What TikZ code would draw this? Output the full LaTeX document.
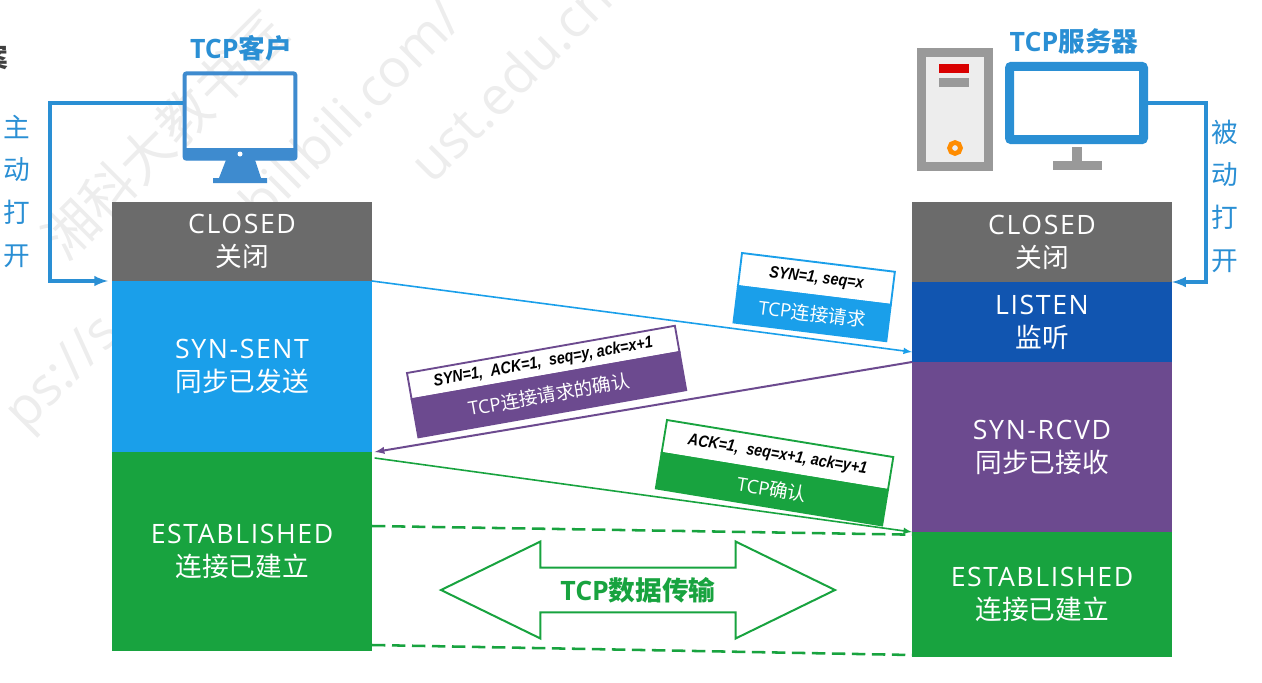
\documentclass[tikz,border=0pt]{standalone}
\usepackage{fontspec}
\setmainfont{Open Sans}
\newfontfamily\cjk{Noto Sans CJK SC}
\newfontfamily\spaced[LetterSpace=6]{Open Sans}
\newfontfamily\arialb[FakeStretch=0.86]{Liberation Sans}
\usetikzlibrary{arrows,positioning,shapes.arrows,calc}
\definecolor{tcpgray}{HTML}{6B6B6B}
\definecolor{tcpsky}{HTML}{1A9FEA}
\definecolor{tcpnavy}{HTML}{1155B0}
\definecolor{tcppurple}{HTML}{6C4A8F}
\definecolor{tcpgreen}{HTML}{18A33F}
\definecolor{tcpline}{HTML}{2A8FD4}
\definecolor{tcpicon}{HTML}{3E8BCF}
\tikzset{
  statebox/.style={fill=#1,text=white,minimum width=195pt,inner sep=0pt,outer sep=0pt,
    align=center,font=\fontsize{20}{24.75}\selectfont},
  msgtop/.style={draw=#1,line width=1.4pt,fill=white,inner sep=0pt,outer sep=0pt,
    font=\arialb\fontsize{12.5}{14}\selectfont\bfseries\itshape},
  msgbot/.style={draw=#1,line width=1.4pt,fill=#1,text=white,inner sep=0pt,outer sep=0pt,
    font=\fontsize{14}{16}\selectfont},
  sidetext/.style={text=tcpline,align=center,inner sep=0pt,font=\cjk\fontsize{20}{32}\selectfont},
  toptext/.style={text=tcpline,inner sep=0pt,font=\fontsize{20}{24}\selectfont\bfseries},
  mark text/.style={text=black!7,inner sep=0pt,font=\fontsize{40}{44}\selectfont},
}
\newcommand{\cn}[1]{{\cjk #1}}
\newcommand{\st}[2]{{\spaced #1}\\{\cjk #2}}

\begin{document}
\begin{tikzpicture}[x=0.75pt,y=-0.75pt]
\useasboundingbox (0,0) rectangle (1262,682);
% watermark
\node[mark text,rotate=45] (mark1) at (165,135) {\cjk 湘科大教书匠};
\node[mark text,rotate=45] (mark2) at (350,110) {bilibili.com/};
\node[mark text,rotate=45] (mark3) at (510,80) {ust.edu.cn};
\node[mark text,rotate=45] (mark4) at (65,375) {ps://s};
% cut off title
\node[inner sep=0pt,text=black!75,font=\cjk\bfseries\fontsize{20}{24}\selectfont] (title) at (-5,57) {案};

% client column
\node[statebox=tcpgray,minimum height=59.25pt,anchor=north west] (closedL) at (112,202) {\st{CLOSED}{关闭}};
\node[statebox=tcpsky,minimum height=128.25pt,below=0pt of closedL] (sent) {\st{SYN-SENT}{同步已发送}};
\node[statebox=tcpgreen,minimum height=149.25pt,below=0pt of sent] (estL) {\st{ESTABLISHED}{连接已建立}};
% server column
\node[statebox=tcpgray,minimum height=60pt,anchor=north west] (closedR) at (912,202) {\st{CLOSED}{关闭}};
\node[statebox=tcpnavy,minimum height=60pt,below=0pt of closedR] (listen) {\st{LISTEN}{监听}};
\node[statebox=tcppurple,minimum height=127.5pt,below=0pt of listen] (rcvd) {\st{SYN-RCVD}{同步已接收}};
\node[statebox=tcpgreen,minimum height=93.75pt,below=0pt of rcvd] (estR) {\st{ESTABLISHED}{连接已建立}};

% client icon
\node[toptext] (clientname) at (241,48) {TCP\cn{客户}};
\node[draw=tcpicon,line width=3pt,rounded corners=1.5pt,minimum width=83pt,minimum height=64pt,inner sep=0pt] (client) at (240,116) {};
\fill[tcpicon,rounded corners=1pt] (183,148) rectangle (297,160);
\fill[white] (240,154) circle (2.5);
\fill[tcpicon] (226,160) -- (255,160) -- (261,178) -- (267,178) -- (267,183) -- (213,183) -- (213,178) -- (219,178) -- cycle;

% server icon
\node[toptext] (servername) at (1074,41) {TCP\cn{服务器}};
\node[draw=black!40,fill=black!7,line width=6.75pt,minimum width=50pt,minimum height=85.5pt,inner sep=0pt] (tower) at (955,109.5) {};
\fill[red!85!black] (939,64) rectangle (969,73);
\fill[black!40] (939,78) rectangle (969,87);
\draw[orange!90!yellow,line width=3.5pt] (955,148) circle (5.5);
\node[draw=tcpline,line width=6.75pt,rounded corners=1.5pt,minimum width=100.5pt,minimum height=55pt,inner sep=0pt] (server) at (1076.5,103) {};
\fill[black!40] (1072,147) rectangle (1082,162);
\fill[black!40] (1053,161) rectangle (1102,170);

% open arrows
\coordinate (bendL) at (50,281);
\coordinate (bendR) at (1206,282);
\draw[tcpline,line width=2.5pt,-latex,shorten >=3pt] ([yshift=9.75pt]client.west) -| (bendL) -- (closedL.south west);
\draw[tcpline,line width=2.5pt,-latex] (server.east) -| (bendR) -- (closedR.south east);
\node[sidetext] (opena) at (17,191) {\cjk 主\\动\\打\\开};
\node[sidetext] (openp) at (1225,196) {\cjk 被\\动\\打\\开};

% handshake
\draw[tcpsky,line width=1.2pt,-latex] (closedL.south east) -- ([yshift=7.5pt]listen.south west);
\draw[tcppurple,line width=1.5pt,-latex] (rcvd.north west) -- ([xshift=2pt]sent.south east);
\draw[tcpgreen,line width=1.2pt,-latex] ([xshift=2pt,yshift=-4.5pt]estL.north east) -- (rcvd.south west);
\draw[tcpgreen,line width=1.9pt,dashed,dash pattern=on 10pt off 5pt] ([yshift=-55.5pt]estL.north east) -- ([yshift=-2pt]estR.north west);
\draw[tcpgreen,line width=1.9pt,dashed,dash pattern=on 10pt off 5pt] ([yshift=4.5pt]estL.south east) -- ([yshift=1.5pt]estR.south west);

% message labels
\node[msgtop=tcpsky,minimum width=115.5pt,minimum height=25pt,rotate=-7,anchor=north west] (syntop) at (742,253) {SYN=1, seq=x};
\node[msgbot=tcpsky,minimum width=115.5pt,minimum height=27.5pt,rotate=-7,anchor=north] (synbot) at (syntop.south) {TCP\cn{连接请求}};
\node[msgtop=tcppurple,minimum width=204pt,minimum height=20pt,rotate=10,anchor=north west] (acktop) at (407,373) {SYN=1,~~ACK=1,~~seq=y, ack=x+1};
\node[msgbot=tcppurple,minimum width=204pt,minimum height=29pt,rotate=10,anchor=north] (ackbot) at (acktop.south) {TCP\cn{连接请求的确认}};
\node[msgtop=tcpgreen,minimum width=172pt,minimum height=25pt,rotate=-9.3,anchor=north west] (conftop) at (667,420) {ACK=1,~~seq=x+1, ack=y+1};
\node[msgbot=tcpgreen,minimum width=172pt,minimum height=27pt,rotate=-9.3,anchor=north] (confbot) at (conftop.south) {TCP\cn{确认}};

% data transfer
\node[double arrow,draw=tcpgreen,line width=1.5pt,fill=white,text=tcpgreen,inner sep=2pt,
  minimum width=72.75pt,minimum height=295.5pt,double arrow head extend=14.6pt,double arrow tip angle=52,
  font=\fontsize{20}{24}\selectfont\bfseries] (transfer) at (638,590) {TCP\cn{数据传输}};
\end{tikzpicture}
\end{document}
